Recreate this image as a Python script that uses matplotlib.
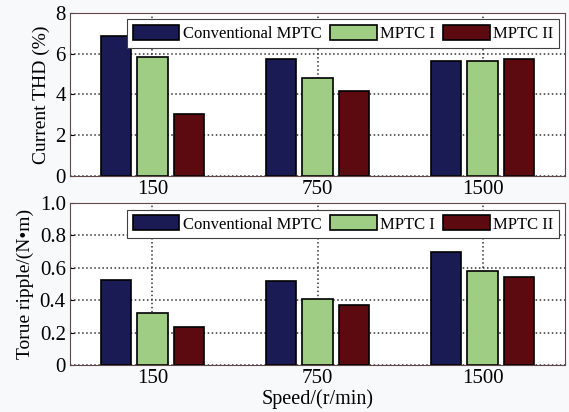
import matplotlib.pyplot as plt
import numpy as np

speeds = ["150", "750", "1500"]
series = ["Conventional MPTC", "MPTC I", "MPTC II"]
thd_conv = [6.88, 5.72, 5.64]
thd_mptc1 = [5.82, 4.82, 5.64]
thd_mptc2 = [3.02, 4.18, 5.75]
ripple_conv = [0.525, 0.52, 0.70]
ripple_mptc1 = [0.32, 0.41, 0.58]
ripple_mptc2 = [0.234, 0.373, 0.546]
thd_ticks = [0, 2, 4, 6, 8]
ripple_ticks = [0, 0.2, 0.4, 0.6, 0.8, 1.0]
ripple_ticklabels = ["0", "0.2", "0.4", "0.6", "0.8", "1.0"]

colors = ["#1a1a55", "#a0cd84", "#5c0a10"]

plt.rcParams['font.family'] = ['Liberation Serif', 'DejaVu Serif']
plt.rcParams['xtick.direction'] = 'in'
plt.rcParams['ytick.direction'] = 'in'

fig = plt.figure(figsize=(5.69, 4.12), dpi=100, facecolor="#f8f9fb")
ax1 = fig.add_axes([0.123, 0.573, 0.870, 0.396])
ax2 = fig.add_axes([0.123, 0.114, 0.870, 0.393])

x = np.arange(1, len(speeds) + 1)
offsets = [-0.22, 0, 0.22]
width = 0.185


def draw(ax, data, yticks, ylim, ylabel):
    for vals, off, c, name in zip(data, offsets, colors, series):
        ax.bar(x + off, vals, width, color=c, edgecolor="black", linewidth=1.2, label=name)
    ax.set_xlim(0.5, 3.5)
    ax.set_ylim(*ylim)
    ax.set_xticks(x)
    ax.set_xticklabels(speeds, fontsize=15)
    ax.set_yticks(yticks)
    ax.tick_params(labelsize=15, length=3, width=0.8, pad=3)
    ax.set_axisbelow(True)
    ax.grid(True, linestyle=':', color="#333333", linewidth=1.1)
    ax.set_ylabel(ylabel, fontsize=14, labelpad=4)
    for s in ax.spines.values():
        s.set_color("#604848")
        s.set_linewidth(0.8)
    leg = ax.legend(loc='upper right', bbox_to_anchor=(0.988, 0.96), ncol=3, fontsize=12,
                    frameon=True, fancybox=False, edgecolor="#404040", framealpha=1,
                    handlelength=2.8, handleheight=1.0, handletextpad=0.2,
                    columnspacing=0.5, borderpad=0.35, borderaxespad=0)
    leg.get_frame().set_linewidth(0.8)


draw(ax1, [thd_conv, thd_mptc1, thd_mptc2], thd_ticks, (0, 8), "Current THD (%)")
draw(ax2, [ripple_conv, ripple_mptc1, ripple_mptc2], ripple_ticks, (0, 1.0), "Torue ripple/(N•m)")
ax2.set_yticklabels(ripple_ticklabels)
ax2.set_xlabel("Speed/(r/min)", fontsize=14.5, labelpad=1)

fig.savefig("out.png", dpi=100, facecolor=fig.get_facecolor())
